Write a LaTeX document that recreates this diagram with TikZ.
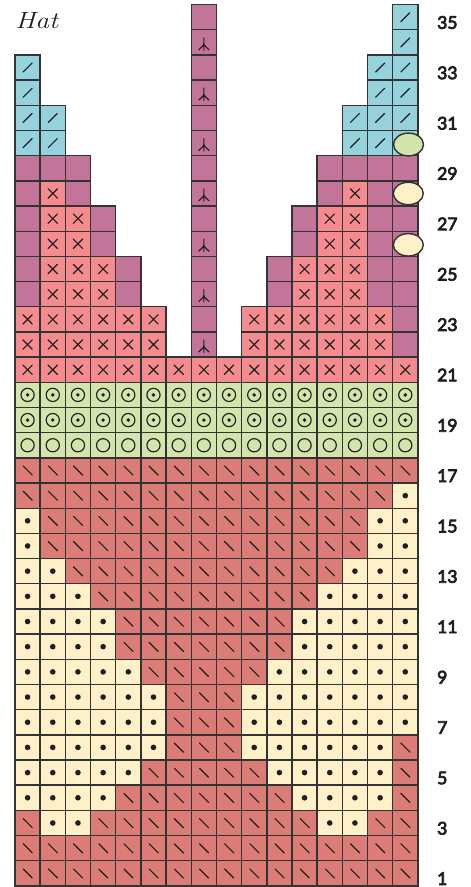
\documentclass[tikz,border=0pt]{standalone}
\usepackage{fontspec}
\usepackage{graphicx}
\newfontfamily\numfont{Lato}[FakeBold=4.2]
\definecolor{cred}{HTML}{DC7C76}
\definecolor{ccream}{HTML}{FEF1C8}
\definecolor{cgreen}{HTML}{D3E5AC}
\definecolor{cpink}{HTML}{F48B8F}
\definecolor{cmauve}{HTML}{C27598}
\definecolor{cblue}{HTML}{96D2DC}
\definecolor{gridc}{HTML}{333333}
\definecolor{symc}{HTML}{1E1E1E}
\tikzset{
  gridline/.style={draw=gridc, line width=1.4pt},
  sym/.style={draw=symc, line width=1.15pt, line cap=round},
  numlab/.style={anchor=base west, inner sep=0pt, text=symc,
    font=\numfont\fontsize{17.5}{17.5}\selectfont}
}
\def\gridpath{}
\newcommand\recordcell{\xdef\gridpath{\gridpath (\cx,\cy) rectangle ++(25.18,25.18)}}
\newcommand\cellbox[1]{\fill[#1] (0,0) rectangle (25.18,25.18);\recordcell}
\newcommand\cellkindR{\cellbox{cred}\draw[sym] (8.2,8.2) -- (17.3,17.3);}
\newcommand\cellkindB{\cellbox{cblue}\draw[sym] (8.1,17.1) -- (17.1,8.1);}
\newcommand\cellkindP{\cellbox{cpink}\draw[sym] (7.9,7.9) -- (17.3,17.3) (7.9,17.3) -- (17.3,7.9);}
\newcommand\cellkindC{\cellbox{ccream}\fill[symc] (12.59,12.59) circle (2.8pt);}
\newcommand\cellkindG{\cellbox{cgreen}\draw[sym] (12.59,12.59) circle (6.6pt);}
\newcommand\cellkindD{\cellbox{cgreen}\draw[sym] (12.59,12.59) circle (6.6pt);\fill[symc] (12.59,12.59) circle (1.9pt);}
\newcommand\cellkindM{\cellbox{cmauve}}
\newcommand\cellkindY{\cellbox{cmauve}\draw[sym] (12.59,8.0) -- (12.59,20.4)
  (12.59,13.8) .. controls (12.59,16.2) and (9.2,17.6) .. (7.6,19.9)
  (12.59,13.8) .. controls (12.59,16.2) and (16.0,17.6) .. (17.6,19.9);}
\newcommand\cellkindO{\cellbox{cmauve}}
\newcommand\cellkindE{\cellbox{cblue}}
\newcommand\cellkindZ{}
\newcommand\chartrow[2]{%
  \foreach \k [count=\c] in {#2}{%
    \pgfmathsetmacro\cx{15+(\c-1)*25.18}%
    \pgfmathsetmacro\cy{4.6+(35-#1)*25.18}%
    \begin{scope}[shift={(\cx,\cy)}]
      \csname cellkind\k\endcsname
    \end{scope}}}
\begin{document}
\begin{tikzpicture}[x=1pt, y=-1pt]
\useasboundingbox (0,0) rectangle (471,887);
\chartrow{1}{R,R,R,R,R,R,R,R,R,R,R,R,R,R,R,R}
\chartrow{2}{R,R,R,R,R,R,R,R,R,R,R,R,R,R,R,R}
\chartrow{3}{R,C,C,R,R,R,R,R,R,R,R,R,C,C,R,R}
\chartrow{4}{C,C,C,C,R,R,R,R,R,R,R,C,C,C,C,R}
\chartrow{5}{C,C,C,C,C,R,R,R,R,R,C,C,C,C,C,R}
\chartrow{6}{C,C,C,C,C,C,R,R,R,C,C,C,C,C,C,R}
\chartrow{7}{C,C,C,C,C,C,R,R,R,C,C,C,C,C,C,C}
\chartrow{8}{C,C,C,C,C,C,R,R,R,C,C,C,C,C,C,C}
\chartrow{9}{C,C,C,C,C,R,R,R,R,R,C,C,C,C,C,C}
\chartrow{10}{C,C,C,C,R,R,R,R,R,R,R,C,C,C,C,C}
\chartrow{11}{C,C,C,C,R,R,R,R,R,R,R,C,C,C,C,C}
\chartrow{12}{C,C,C,R,R,R,R,R,R,R,R,R,C,C,C,C}
\chartrow{13}{C,C,R,R,R,R,R,R,R,R,R,R,R,C,C,C}
\chartrow{14}{C,R,R,R,R,R,R,R,R,R,R,R,R,R,C,C}
\chartrow{15}{C,R,R,R,R,R,R,R,R,R,R,R,R,R,C,C}
\chartrow{16}{R,R,R,R,R,R,R,R,R,R,R,R,R,R,R,C}
\chartrow{17}{R,R,R,R,R,R,R,R,R,R,R,R,R,R,R,R}
\chartrow{18}{G,G,G,G,G,G,G,G,G,G,G,G,G,G,G,G}
\chartrow{19}{D,D,D,D,D,D,D,D,D,D,D,D,D,D,D,D}
\chartrow{20}{D,D,D,D,D,D,D,D,D,D,D,D,D,D,D,D}
\chartrow{21}{P,P,P,P,P,P,P,P,P,P,P,P,P,P,P,P}
\chartrow{22}{P,P,P,P,P,P,Z,Y,Z,P,P,P,P,P,P,M}
\chartrow{23}{P,P,P,P,P,P,Z,M,Z,P,P,P,P,P,P,M}
\chartrow{24}{M,P,P,P,M,Z,Z,Y,Z,Z,M,P,P,P,M,M}
\chartrow{25}{M,P,P,P,M,Z,Z,M,Z,Z,M,P,P,P,M,M}
\chartrow{26}{M,P,P,M,Z,Z,Z,Y,Z,Z,Z,M,P,P,M,O}
\chartrow{27}{M,P,P,M,Z,Z,Z,M,Z,Z,Z,M,P,P,M,M}
\chartrow{28}{M,P,M,Z,Z,Z,Z,Y,Z,Z,Z,Z,M,P,M,O}
\chartrow{29}{M,M,M,Z,Z,Z,Z,M,Z,Z,Z,Z,M,M,M,M}
\chartrow{30}{B,B,Z,Z,Z,Z,Z,Y,Z,Z,Z,Z,Z,B,B,E}
\chartrow{31}{B,B,Z,Z,Z,Z,Z,M,Z,Z,Z,Z,Z,B,B,B}
\chartrow{32}{B,Z,Z,Z,Z,Z,Z,Y,Z,Z,Z,Z,Z,Z,B,B}
\chartrow{33}{B,Z,Z,Z,Z,Z,Z,M,Z,Z,Z,Z,Z,Z,B,B}
\chartrow{34}{Z,Z,Z,Z,Z,Z,Z,Y,Z,Z,Z,Z,Z,Z,Z,B}
\chartrow{35}{Z,Z,Z,Z,Z,Z,Z,M,Z,Z,Z,Z,Z,Z,Z,B}
\edef\drawgrid{\noexpand\draw[gridline] \gridpath;}\drawgrid
% ovals over column 16
\filldraw[fill=ccream, gridline] ({15+15*25.18+15.6},{4.6+(35-26)*25.18+13.6}) ellipse (15pt and 11.2pt);
\filldraw[fill=ccream, gridline] ({15+15*25.18+15.6},{4.6+(35-28)*25.18+12.6}) ellipse (15pt and 11.2pt);
\filldraw[fill=cgreen, gridline] ({15+15*25.18+15.8},{4.6+(35-30)*25.18+14.0}) ellipse (15pt and 11.4pt);
\foreach \r in {1,3,...,35}
  \node[numlab] (n\r) at (437,{4.6+(36-\r)*25.18-1}) {\r};
\node[anchor=base west, inner sep=0pt, text=symc] (title) at (15.3,28.3)
  {\scalebox{1.17}[1]{\fontsize{23.5}{23.5}\selectfont\itshape Hat}};
\end{tikzpicture}
\end{document}
